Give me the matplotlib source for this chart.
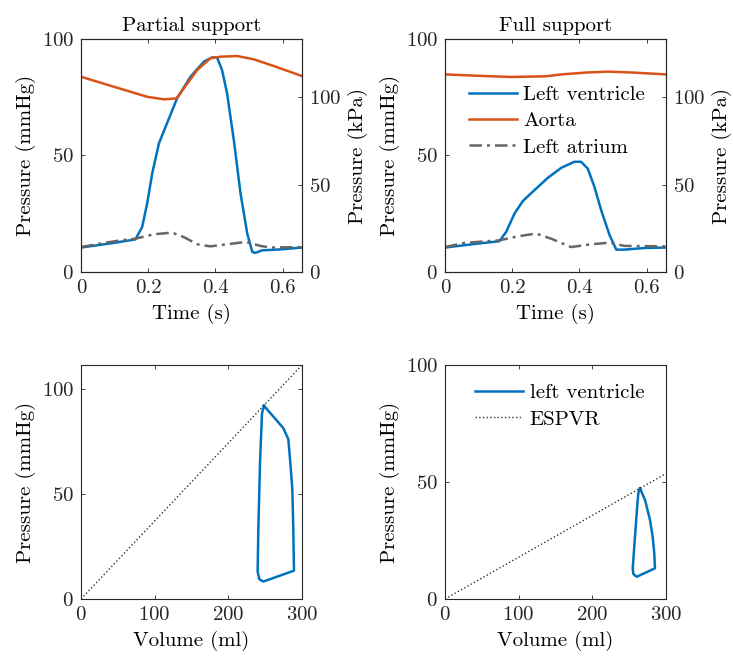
import numpy as np
import matplotlib
matplotlib.use("Agg")
import matplotlib.pyplot as plt

plt.rcParams['font.family'] = 'serif'
plt.rcParams['font.serif'] = ['cmr10', 'DejaVu Serif']
plt.rcParams['mathtext.fontset'] = 'cm'
plt.rcParams['axes.formatter.use_mathtext'] = True
plt.rcParams['font.size'] = 15

# colours (MATLAB defaults)
c_lv = '#0072BD'
c_ao = '#D95319'
c_la = '#666666'
c_ax = '#262626'

# --- partial support, pressure vs time ---
t_lv_p = [0, 0.098, 0.162, 0.182, 0.197, 0.212, 0.232, 0.256, 0.286, 0.326, 0.366, 0.390,
          0.405, 0.420, 0.435, 0.455, 0.475, 0.495, 0.510, 0.519, 0.539, 0.594, 0.658]
p_lv_p = [10.5, 12.5, 14.0, 19.3, 29.4, 42.3, 55.2, 63.8, 74.5, 83.8, 90.3, 92.1,
          92.1, 86.7, 76.6, 56.6, 33.7, 16.5, 8.6, 8.2, 9.3, 9.7, 10.5]
t_ao_p = [0, 0.098, 0.197, 0.247, 0.284, 0.306, 0.346, 0.385, 0.415, 0.465, 0.514, 0.574, 0.658]
p_ao_p = [83.8, 79.5, 75.2, 74.1, 74.5, 78.8, 86.7, 91.7, 92.4, 92.7, 91.3, 88.4, 84.1]
t_la_p = [0, 0.058, 0.118, 0.162, 0.217, 0.271, 0.306, 0.346, 0.385, 0.435, 0.490, 0.534, 0.564, 0.658]
p_la_p = [10.7, 12.2, 13.6, 14.3, 16.2, 16.9, 15.0, 11.9, 11.0, 11.9, 12.9, 11.2, 10.5, 10.7]

# --- full support, pressure vs time ---
t_lv_f = [0, 0.098, 0.162, 0.182, 0.207, 0.232, 0.266, 0.306, 0.346, 0.385, 0.405, 0.425,
          0.445, 0.465, 0.490, 0.510, 0.534, 0.594, 0.658]
p_lv_f = [10.5, 12.2, 13.2, 17.2, 25.1, 30.5, 35.1, 40.4, 44.7, 47.3, 47.3, 44.4,
          36.5, 26.5, 15.8, 9.6, 9.6, 10.3, 10.5]
t_ao_f = [0, 0.1, 0.197, 0.3, 0.346, 0.42, 0.485, 0.56, 0.658]
p_ao_f = [84.8, 84.2, 83.7, 84.0, 84.8, 85.6, 86.0, 85.6, 84.8]
t_la_f = [0, 0.058, 0.162, 0.217, 0.271, 0.316, 0.375, 0.435, 0.490, 0.534, 0.658]
p_la_f = [10.7, 12.5, 13.6, 15.3, 16.5, 14.3, 10.7, 11.9, 12.6, 11.2, 11.0]

# --- pressure-volume loops ---
v_pv_p = [248.4, 245.7, 243.0, 240.7, 239.8, 242.1, 247.5, 289.1, 288.2, 286.9, 284.6, 281.4, 274.6, 261.0, 248.4]
p_pv_p = [91.9, 88.4, 64.6, 32.9, 13.0, 9.4, 8.3, 13.5, 32.9, 51.9, 63.0, 76.0, 81.3, 86.8, 91.9]
v_pv_f = [264.7, 262.4, 260.2, 256.6, 254.8, 255.7, 260.2, 285.0, 284.1, 281.9, 278.3, 271.5, 264.7]
p_pv_f = [47.3, 45.2, 36.6, 20.9, 13.1, 10.7, 9.5, 13.1, 19.5, 26.6, 33.8, 42.3, 47.3]

v_es = [0, 300]
p_es_p = [0, 111.3]
p_es_f = [0, 53.6]

time_ticks = [0, 0.2, 0.4, 0.6]
time_labels = ['0', '0.2', '0.4', '0.6']
p_ticks = [0, 50, 100]
vol_ticks = [0, 100, 200, 300]

titles = ['Partial support', 'Full support']
lv_names = ['Left ventricle', 'Aorta', 'Left atrium']
pv_names = ['left ventricle', 'ESPVR']

fig = plt.figure(figsize=(7.33, 6.58), dpi=100)
W, H = 733, 658


def box(l, t, r, b):
    return [l / W, (H - b) / H, (r - l) / W, (b - t) / H]


def style(ax, right=True):
    for s in ax.spines.values():
        s.set_color(c_ax)
        s.set_linewidth(0.8)
    ax.tick_params(direction='in', length=3, width=0.6, colors=c_ax,
                   top=True, right=right, pad=5, labelsize=15)


series = [
    (t_lv_p, p_lv_p, t_ao_p, p_ao_p, t_la_p, p_la_p),
    (t_lv_f, p_lv_f, t_ao_f, p_ao_f, t_la_f, p_la_f),
]
lefts = [81, 445]
for i in range(2):
    ax = fig.add_axes(box(lefts[i], 39, lefts[i] + 221, 272))
    tl, pl, ta, pa, tla, pla = series[i]
    l1, = ax.plot(tl, pl, color=c_lv, lw=1.8)
    l2, = ax.plot(ta, pa, color=c_ao, lw=1.8)
    l3, = ax.plot(tla, pla, color=c_la, lw=1.8, ls=(0, (5, 2, 1.2, 2)))
    ax.set_xlim(0, 0.658)
    ax.set_ylim(0, 100)
    ax.set_xticks(time_ticks)
    ax.set_xticklabels(time_labels)
    ax.set_yticks(p_ticks)
    ax.set_xlabel('Time (s)', labelpad=5)
    ax.set_ylabel('Pressure (mmHg)', labelpad=4)
    ax.set_title(titles[i], fontsize=15, pad=6)
    style(ax, right=False)
    ax2 = ax.twinx()
    ax2.set_ylim(0, 133.32)
    ax2.set_yticks(p_ticks)
    ax2.set_ylabel('Pressure (kPa)', labelpad=5)
    style(ax2)
    ax2.tick_params(top=False, left=False)
    if i == 1:
        ax.legend([l1, l2, l3], lv_names, loc='upper left', bbox_to_anchor=(0.07, 0.835),
                  frameon=False, fontsize=15, handlelength=2.3, handletextpad=0.3,
                  labelspacing=0.36, borderaxespad=0)

pv = [(v_pv_p, p_pv_p, p_es_p, 111.3), (v_pv_f, p_pv_f, p_es_f, 100)]
for i in range(2):
    ax = fig.add_axes(box(lefts[i], 365, lefts[i] + 221, 599))
    v, p, pes, ytop = pv[i]
    h1, = ax.plot(v, p, color=c_lv, lw=1.8)
    h2, = ax.plot(v_es, pes, color='#333333', lw=1.0, ls=':')
    ax.set_xlim(0, 300)
    ax.set_ylim(0, ytop)
    ax.set_xticks(vol_ticks)
    ax.set_yticks(p_ticks)
    ax.set_xlabel('Volume (ml)', labelpad=5)
    ax.set_ylabel('Pressure (mmHg)', labelpad=4)
    style(ax)
    if i == 1:
        ax.legend([h1, h2], pv_names, loc='upper left', bbox_to_anchor=(0.10, 0.955),
                  frameon=False, fontsize=15, handlelength=2.3, handletextpad=0.3,
                  labelspacing=0.36, borderaxespad=0)

fig.savefig('out.png', dpi=100)
